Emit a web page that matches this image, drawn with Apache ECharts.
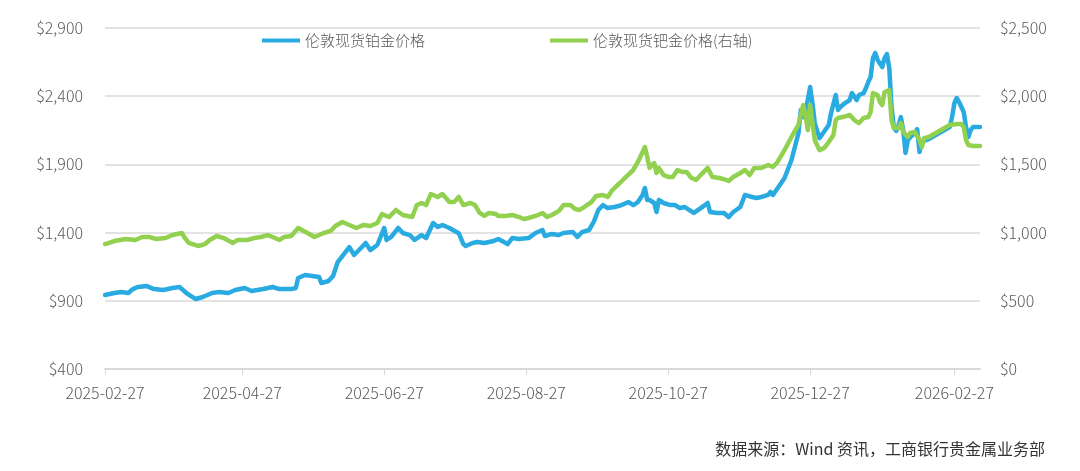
<!DOCTYPE html>
<html>
<head>
<meta charset="utf-8">
<script src="https://cdn.jsdelivr.net/npm/echarts@6/dist/echarts.min.js"></script>
<style>
  html, body { margin: 0; padding: 0; background: #fff; }
  #chart { width: 1080px; height: 471px; }
</style>
</head>
<body>
<div id="chart"></div>
<script>
// x 轴标签（每两个月一个）
var tickLabels = ['2025-02-27', '2025-04-27', '2025-06-27', '2025-08-27', '2025-10-27', '2025-12-27', '2026-02-27'];

// 伦敦现货铂金价格（左轴，美元/盎司）
var platinum = [
  ['2025-02-27', 942], ['2025-03-03', 957], ['2025-03-06', 964], ['2025-03-09', 957], ['2025-03-11', 986],
  ['2025-03-13', 1001], ['2025-03-17', 1008], ['2025-03-20', 986], ['2025-03-24', 979], ['2025-03-28', 994],
  ['2025-03-31', 1001], ['2025-04-03', 957], ['2025-04-07', 913], ['2025-04-10', 928], ['2025-04-14', 957],
  ['2025-04-17', 964], ['2025-04-21', 957], ['2025-04-24', 979], ['2025-04-28', 994], ['2025-05-01', 972],
  ['2025-05-06', 986], ['2025-05-10', 1001], ['2025-05-13', 986], ['2025-05-18', 986], ['2025-05-20', 994],
  ['2025-05-21', 1067], ['2025-05-24', 1089], ['2025-05-27', 1082], ['2025-05-30', 1074], ['2025-05-31', 1030],
  ['2025-06-03', 1045], ['2025-06-05', 1082], ['2025-06-07', 1184], ['2025-06-10', 1250], ['2025-06-12', 1294],
  ['2025-06-14', 1236], ['2025-06-17', 1287], ['2025-06-19', 1324], ['2025-06-21', 1272], ['2025-06-24', 1309],
  ['2025-06-27', 1434], ['2025-06-28', 1346], ['2025-06-30', 1368], ['2025-07-03', 1434], ['2025-07-05', 1397],
  ['2025-07-08', 1382], ['2025-07-10', 1346], ['2025-07-13', 1382], ['2025-07-15', 1360], ['2025-07-18', 1470],
  ['2025-07-20', 1441], ['2025-07-22', 1456], ['2025-07-25', 1434], ['2025-07-28', 1404], ['2025-07-29', 1397],
  ['2025-07-31', 1316], ['2025-08-01', 1302], ['2025-08-04', 1324], ['2025-08-06', 1331], ['2025-08-09', 1324],
  ['2025-08-13', 1338], ['2025-08-15', 1353], ['2025-08-19', 1316], ['2025-08-21', 1360], ['2025-08-24', 1353],
  ['2025-08-28', 1360], ['2025-08-31', 1397], ['2025-09-03', 1419], ['2025-09-04', 1375], ['2025-09-07', 1390],
  ['2025-09-10', 1382], ['2025-09-12', 1397], ['2025-09-16', 1404], ['2025-09-18', 1368], ['2025-09-20', 1404],
  ['2025-09-23', 1419], ['2025-09-25', 1478], ['2025-09-27', 1566], ['2025-09-29', 1602], ['2025-10-01', 1580],
  ['2025-10-04', 1588], ['2025-10-07', 1602], ['2025-10-10', 1624], ['2025-10-12', 1602], ['2025-10-14', 1624],
  ['2025-10-16', 1676], ['2025-10-17', 1727], ['2025-10-18', 1639], ['2025-10-19', 1639], ['2025-10-21', 1617],
  ['2025-10-22', 1551], ['2025-10-23', 1639], ['2025-10-25', 1617], ['2025-10-28', 1602], ['2025-10-30', 1602],
  ['2025-11-01', 1580], ['2025-11-03', 1588], ['2025-11-05', 1566], ['2025-11-07', 1544], ['2025-11-10', 1580],
  ['2025-11-13', 1617], ['2025-11-14', 1551], ['2025-11-17', 1544], ['2025-11-20', 1544], ['2025-11-22', 1514],
  ['2025-11-24', 1551], ['2025-11-27', 1588], ['2025-11-29', 1676], ['2025-12-02', 1661], ['2025-12-04', 1654],
  ['2025-12-06', 1661], ['2025-12-09', 1676], ['2025-12-10', 1698], ['2025-12-11', 1676], ['2025-12-14', 1749],
  ['2025-12-16', 1800], ['2025-12-19', 1932], ['2025-12-22', 2130], ['2025-12-23', 2299], ['2025-12-24', 2247],
  ['2025-12-25', 2284], ['2025-12-27', 2467], ['2025-12-28', 2350], ['2025-12-29', 2203], ['2025-12-31', 2093],
  ['2026-01-01', 2115], ['2026-01-04', 2189], ['2026-01-05', 2277], ['2026-01-07', 2409], ['2026-01-08', 2299],
  ['2026-01-09', 2321], ['2026-01-11', 2350], ['2026-01-13', 2372], ['2026-01-14', 2423], ['2026-01-16', 2372],
  ['2026-01-17', 2409], ['2026-01-19', 2423], ['2026-01-20', 2460], ['2026-01-21', 2504], ['2026-01-22', 2541],
  ['2026-01-23', 2680], ['2026-01-24', 2717], ['2026-01-25', 2665], ['2026-01-27', 2614], ['2026-01-28', 2680],
  ['2026-01-29', 2709], ['2026-01-30', 2607], ['2026-01-31', 2321], ['2026-02-01', 2167], ['2026-02-02', 2145],
  ['2026-02-03', 2189], ['2026-02-04', 2247], ['2026-02-05', 2152], ['2026-02-06', 1984], ['2026-02-07', 2079],
  ['2026-02-09', 2115], ['2026-02-10', 2130], ['2026-02-11', 2159], ['2026-02-12', 1991], ['2026-02-13', 2064],
  ['2026-02-16', 2086], ['2026-02-25', 2174], ['2026-02-26', 2247], ['2026-02-27', 2350], ['2026-02-28', 2387],
  ['2026-03-01', 2357], ['2026-03-03', 2284], ['2026-03-04', 2174], ['2026-03-05', 2101], ['2026-03-06', 2152],
  ['2026-03-07', 2174], ['2026-03-10', 2174]
];

// 伦敦现货钯金价格（右轴，美元/盎司）
var palladium = [
  ['2025-02-27', 916], ['2025-03-03', 938], ['2025-03-08', 953], ['2025-03-12', 946], ['2025-03-15', 968],
  ['2025-03-18', 968], ['2025-03-21', 953], ['2025-03-25', 960], ['2025-03-28', 982], ['2025-04-01', 997],
  ['2025-04-02', 968], ['2025-04-04', 924], ['2025-04-08', 902], ['2025-04-11', 916], ['2025-04-13', 946],
  ['2025-04-16', 975], ['2025-04-19', 960], ['2025-04-23', 924], ['2025-04-25', 946], ['2025-04-29', 946],
  ['2025-05-02', 960], ['2025-05-05', 968], ['2025-05-08', 982], ['2025-05-10', 968], ['2025-05-13', 946],
  ['2025-05-15', 968], ['2025-05-18', 975], ['2025-05-21', 1034], ['2025-05-25', 997], ['2025-05-28', 968],
  ['2025-06-01', 997], ['2025-06-04', 1012], ['2025-06-06', 1048], ['2025-06-09', 1078], ['2025-06-12', 1056],
  ['2025-06-15', 1034], ['2025-06-18', 1056], ['2025-06-21', 1048], ['2025-06-24', 1070], ['2025-06-26', 1136],
  ['2025-06-29', 1114], ['2025-07-02', 1166], ['2025-07-05', 1129], ['2025-07-09', 1114], ['2025-07-11', 1202],
  ['2025-07-13', 1217], ['2025-07-15', 1202], ['2025-07-17', 1283], ['2025-07-20', 1261], ['2025-07-22', 1283],
  ['2025-07-25', 1224], ['2025-07-27', 1224], ['2025-07-29', 1261], ['2025-07-31', 1202], ['2025-08-03', 1217],
  ['2025-08-05', 1202], ['2025-08-07', 1144], ['2025-08-09', 1122], ['2025-08-11', 1144], ['2025-08-14', 1136],
  ['2025-08-15', 1122], ['2025-08-18', 1122], ['2025-08-21', 1129], ['2025-08-24', 1114], ['2025-08-26', 1100],
  ['2025-08-28', 1107], ['2025-08-31', 1122], ['2025-09-03', 1144], ['2025-09-05', 1114], ['2025-09-07', 1129],
  ['2025-09-10', 1158], ['2025-09-12', 1202], ['2025-09-15', 1202], ['2025-09-17', 1173], ['2025-09-19', 1166],
  ['2025-09-21', 1188], ['2025-09-24', 1224], ['2025-09-26', 1268], ['2025-09-29', 1276], ['2025-10-01', 1261],
  ['2025-10-03', 1312], ['2025-10-06', 1360], ['2025-10-09', 1411], ['2025-10-12', 1459], ['2025-10-14', 1518],
  ['2025-10-16', 1591], ['2025-10-17', 1627], ['2025-10-18', 1554], ['2025-10-19', 1474], ['2025-10-20', 1496],
  ['2025-10-21', 1510], ['2025-10-22', 1437], ['2025-10-23', 1474], ['2025-10-25', 1422], ['2025-10-27', 1408],
  ['2025-10-29', 1408], ['2025-10-31', 1459], ['2025-11-02', 1444], ['2025-11-04', 1444], ['2025-11-06', 1400],
  ['2025-11-08', 1386], ['2025-11-10', 1422], ['2025-11-13', 1474], ['2025-11-15', 1408], ['2025-11-18', 1400],
  ['2025-11-21', 1386], ['2025-11-22', 1378], ['2025-11-24', 1408], ['2025-11-27', 1437], ['2025-11-29', 1459],
  ['2025-12-01', 1422], ['2025-12-03', 1474], ['2025-12-06', 1474], ['2025-12-09', 1496], ['2025-12-11', 1481],
  ['2025-12-13', 1518], ['2025-12-16', 1605], ['2025-12-19', 1701], ['2025-12-22', 1790], ['2025-12-23', 1862],
  ['2025-12-24', 1935], ['2025-12-25', 1862], ['2025-12-26', 1752], ['2025-12-27', 1935], ['2025-12-28', 1803],
  ['2025-12-29', 1679], ['2025-12-31', 1605], ['2026-01-02', 1620], ['2026-01-04', 1664], ['2026-01-06', 1715],
  ['2026-01-07', 1825], ['2026-01-08', 1840], ['2026-01-10', 1847], ['2026-01-13', 1862], ['2026-01-15', 1825],
  ['2026-01-17', 1803], ['2026-01-19', 1840], ['2026-01-21', 1847], ['2026-01-22', 1884], ['2026-01-23', 2023],
  ['2026-01-25', 2009], ['2026-01-26', 1957], ['2026-01-27', 1935], ['2026-01-28', 2031], ['2026-01-30', 2045],
  ['2026-01-31', 1825], ['2026-02-01', 1767], ['2026-02-03', 1767], ['2026-02-04', 1803], ['2026-02-05', 1737],
  ['2026-02-07', 1701], ['2026-02-08', 1730], ['2026-02-10', 1737], ['2026-02-12', 1679], ['2026-02-13', 1627],
  ['2026-02-14', 1693], ['2026-02-16', 1701], ['2026-02-25', 1789], ['2026-02-28', 1796], ['2026-03-02', 1796],
  ['2026-03-03', 1774], ['2026-03-04', 1679], ['2026-03-05', 1642], ['2026-03-07', 1635], ['2026-03-10', 1635]
];

// 日历日类目 2025-02-27 ~ 2026-03-10
var categories = [];
var start = Date.UTC(2025, 1, 27);
for (var i = 0; i <= 376; i++) {
  categories.push(new Date(start + i * 86400000).toISOString().slice(0, 10));
}

function showTick(index, value) {
  return tickLabels.indexOf(value) >= 0;
}
function money(v) {
  return '$' + String(v).replace(/\B(?=(\d{3})+(?!\d))/g, ',');
}

var font = 'Noto Sans CJK SC';
var labelStyle = { color: '#595959', fontSize: 16, fontFamily: font, fontWeight: 300 };

var chart = echarts.init(document.getElementById('chart'));
var option = {
  animation: false,
  backgroundColor: '#fff',
  grid: { left: 105, right: 100, top: 28, bottom: 102 },
  legend: {
    left: 257,
    top: 28,
    icon: 'rect',
    itemWidth: 38,
    itemHeight: 4,
    itemGap: 125,
    textStyle: { color: '#595959', fontSize: 15, fontFamily: font, fontWeight: 300 },
    data: ['伦敦现货铂金价格', '伦敦现货钯金价格(右轴)']
  },
  xAxis: {
    type: 'category',
    data: categories,
    boundaryGap: false,
    axisLine: { lineStyle: { color: '#d9d9d9', width: 2 } },
    axisTick: { interval: showTick, length: 6, lineStyle: { color: '#d9d9d9' } },
    axisLabel: Object.assign({ interval: showTick, margin: 16 }, labelStyle),
    splitLine: { show: false }
  },
  yAxis: [
    {
      type: 'value',
      min: 400,
      max: 2900,
      interval: 500,
      axisLine: { show: false },
      axisTick: { show: false },
      axisLabel: Object.assign({ formatter: money, margin: 22 }, labelStyle),
      splitLine: { lineStyle: { color: '#e3e3e3', width: 2 } }
    },
    {
      type: 'value',
      position: 'right',
      min: 0,
      max: 2500,
      interval: 500,
      axisLine: { show: false },
      axisTick: { show: false },
      axisLabel: Object.assign({ formatter: money, margin: 20 }, labelStyle),
      splitLine: { show: false }
    }
  ],
  series: [
    {
      name: '伦敦现货铂金价格',
      type: 'line',
      yAxisIndex: 0,
      data: platinum,
      showSymbol: false,
      itemStyle: { color: '#29abe2' },
      lineStyle: { color: '#29abe2', width: 4.5, cap: 'round', join: 'round' }
    },
    {
      name: '伦敦现货钯金价格(右轴)',
      type: 'line',
      yAxisIndex: 1,
      data: palladium,
      showSymbol: false,
      itemStyle: { color: '#92d050' },
      lineStyle: { color: '#92d050', width: 4.5, cap: 'round', join: 'round' }
    }
  ],
  graphic: [
    {
      type: 'text',
      right: 35,
      top: 441,
      style: {
        text: '数据来源：Wind 资讯，工商银行贵金属业务部',
        fill: '#333',
        fontSize: 16,
        fontFamily: font
      }
    }
  ]
};
chart.setOption(option);
</script>
</body>
</html>
